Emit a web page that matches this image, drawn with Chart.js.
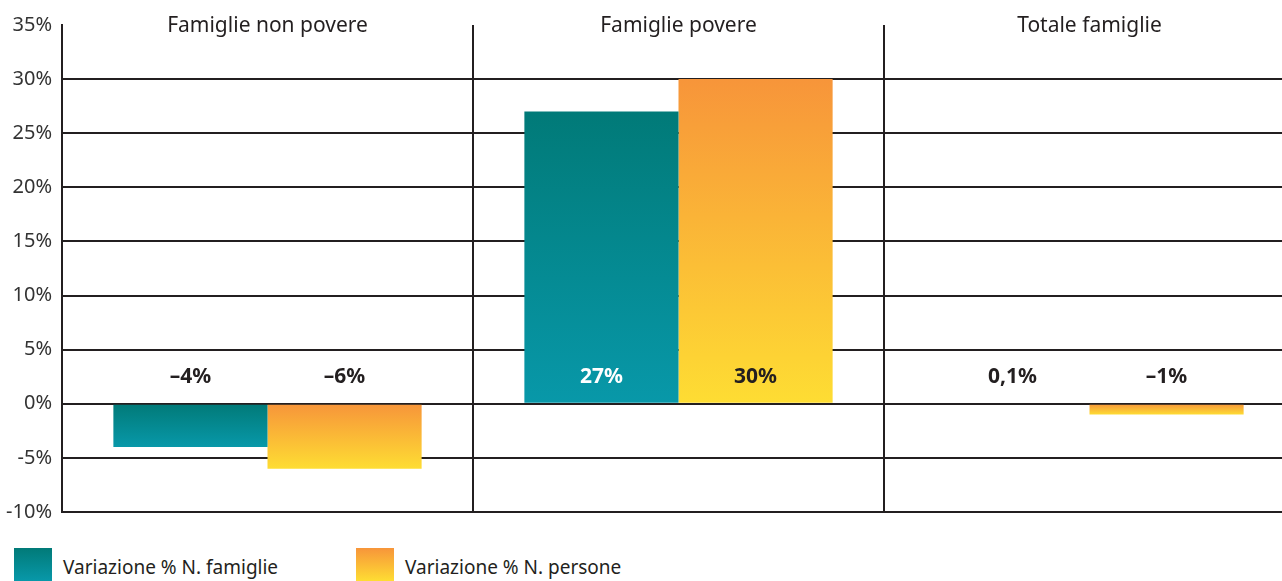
<!DOCTYPE html>
<html>
<head>
<meta charset="utf-8">
<script src="https://cdn.jsdelivr.net/npm/chart.js@4.4.1/dist/chart.umd.min.js"></script>
<style>
  html, body { margin: 0; padding: 0; background: #fff; overflow: hidden; width: 1282px; height: 581px; }
  #wrap { position: absolute; left: 0; top: 0; width: 1295px; height: 534px; }
  .leg { position: absolute; font-family: "Noto Sans", sans-serif; font-size: 19px; color: #231f20; line-height: 20px; }
  .sw { position: absolute; width: 38px; height: 33px; }
</style>
</head>
<body>
<div id="wrap"><canvas id="c"></canvas></div>
<div class="sw" style="left:14px;top:548px;background:linear-gradient(#017a78,#0898a9);"></div>
<div class="leg" style="left:63px;top:557px;">Variazione % N. famiglie</div>
<div class="sw" style="left:356px;top:548px;background:linear-gradient(#f7953a,#fedd33);"></div>
<div class="leg" style="left:405px;top:557px;">Variazione % N. persone</div>
<script>
const categories = ["Famiglie non povere", "Famiglie povere", "Totale famiglie"];
const seriesNames = ["Variazione % N. famiglie", "Variazione % N. persone"];
const famiglieValues = [-4, 27, 0.1];
const personeValues = [-6, 30, -1];
const yTicks = { min: -10, max: 35, step: 5 };
const labelLevel = 2.5;

const ink = "#231f20";
const gradStops = [["#017a78", "#0898a9"], ["#f7953a", "#fedd33"]];

function barGradient(idx) {
  return function (ctx) {
    const chart = ctx.chart;
    const area = chart.chartArea;
    if (!area || ctx.raw === undefined) return gradStops[idx][0];
    const y = chart.scales.y;
    const v = ctx.raw;
    const y1 = y.getPixelForValue(Math.max(v, 0));
    const y2 = y.getPixelForValue(Math.min(v, 0));
    if (y2 - y1 < 1.5) return gradStops[idx][0];
    const g = chart.ctx.createLinearGradient(0, y1, 0, y2);
    g.addColorStop(0, gradStops[idx][0]);
    g.addColorStop(1, gradStops[idx][1]);
    return g;
  };
}

function fmt(v) {
  const s = Math.abs(v).toLocaleString("it-IT", { maximumFractionDigits: 1 });
  return (v < 0 ? "–" : "") + s + "%";
}

const overlay = {
  id: "overlay",
  afterDatasetsDraw(chart) {
    const c = chart.ctx;
    const x = chart.scales.x, y = chart.scales.y;
    c.save();
    c.textAlign = "center";
    c.textBaseline = "middle";
    c.font = "21px 'Noto Sans', sans-serif";
    c.fillStyle = ink;
    categories.forEach((cat, i) => {
      c.fillText(cat, x.getPixelForValue(i), chart.chartArea.top + 1);
    });
    c.font = "bold 21px 'Noto Sans', sans-serif";
    const ly = y.getPixelForValue(labelLevel);
    chart.data.datasets.forEach((ds, di) => {
      const meta = chart.getDatasetMeta(di);
      meta.data.forEach((bar, i) => {
        const v = ds.data[i];
        c.fillStyle = (di === 0 && v > labelLevel) ? "#ffffff" : ink;
        c.fillText(fmt(v), bar.x, ly);
      });
    });
    c.restore();
  }
};

new Chart(document.getElementById("c"), {
  type: "bar",
  data: {
    labels: categories,
    datasets: [
      { label: seriesNames[0], data: famiglieValues, backgroundColor: barGradient(0), borderWidth: 0 },
      { label: seriesNames[1], data: personeValues, backgroundColor: barGradient(1), borderWidth: 0 }
    ]
  },
  options: {
    responsive: true,
    maintainAspectRatio: false,
    animation: false,
    layout: { padding: { top: 25, bottom: 16, left: 0, right: 0 } },
    datasets: { bar: { categoryPercentage: 0.75, barPercentage: 1.0 } },
    plugins: { legend: { display: false }, tooltip: { enabled: false } },
    scales: {
      x: {
        type: "category",
        ticks: { display: false },
        grid: { offset: true, drawTicks: false, color: ink, lineWidth: 2 },
        border: { display: false },
        afterFit(s) { s.height = 0; }
      },
      y: {
        min: yTicks.min,
        max: yTicks.max,
        ticks: {
          stepSize: yTicks.step,
          padding: 10,
          color: "#333",
          font: { family: "'Noto Sans', sans-serif", size: 20 },
          callback: (v) => (v < 0 ? "-" : "") + Math.abs(v) + "%"
        },
        grid: {
          drawTicks: false,
          lineWidth: 2,
          color: (ctx) => (ctx.tick && ctx.tick.value === yTicks.max) ? "rgba(0,0,0,0)" : ink
        },
        border: { display: true, color: ink, width: 2 },
        afterFit(s) { s.width = 62; }
      }
    }
  },
  plugins: [overlay]
});
</script>
</body>
</html>
